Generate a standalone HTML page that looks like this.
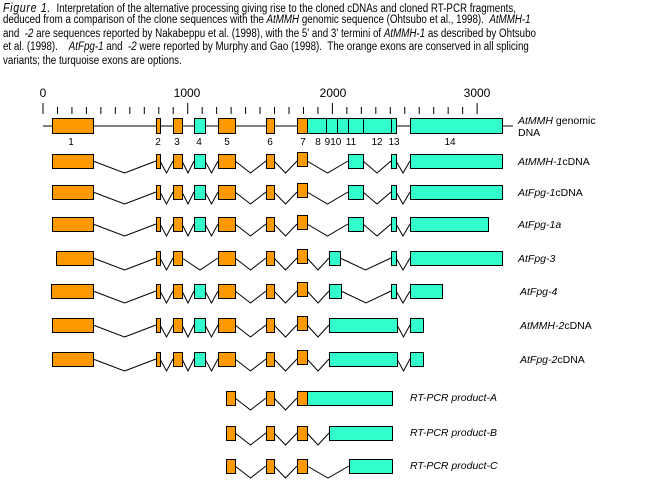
<!DOCTYPE html>
<html><head><meta charset="utf-8"><style>
body{margin:0;background:#fff;}
#w{position:relative;width:654px;height:480px;overflow:hidden;font-family:"Liberation Sans",sans-serif;}
.t{position:absolute;left:3px;font-size:11.5px;white-space:nowrap;color:#000;transform:scaleX(0.85);transform-origin:0 0}
i{font-style:italic}
</style></head><body><div id="w">
<div class="t" style="top:1px"><i style="font-size:12.5px;letter-spacing:0.8px">Figure 1.</i>&nbsp; Interpretation of the alternative processing giving rise to the cloned cDNAs and cloned RT-PCR fragments,</div>
<div class="t" style="top:14px">deduced from a comparison of the clone sequences with the <i>AtMMH</i> genomic sequence (Ohtsubo et al., 1998).&nbsp; <i>AtMMH-1</i></div>
<div class="t" style="top:28px">and &nbsp;<i>-2</i> are sequences reported by Nakabeppu et al. (1998), with the 5' and 3' termini of <i>AtMMH-1</i> as described by Ohtsubo</div>
<div class="t" style="top:41px">et al. (1998).&nbsp;&nbsp;&nbsp; <i>AtFpg-1</i> and &nbsp;<i>-2</i> were reported by Murphy and Gao (1998).&nbsp; The orange exons are conserved in all splicing</div>
<div class="t" style="top:55px">variants; the turquoise exons are options.</div>
<svg id="s" width="654" height="480" style="position:absolute;left:0;top:0" font-family="Liberation Sans, sans-serif" font-size="11">
<g id="g"></g>
<g font-size="12" text-anchor="middle">
<text x="43" y="97">0</text><text x="187" y="97">1000</text><text x="333" y="97">2000</text><text x="477" y="97">3000</text>
</g>
<g text-anchor="middle" font-size="10">
<text x="71" y="145">1</text><text x="158" y="145">2</text><text x="177" y="145">3</text><text x="199" y="145">4</text><text x="227" y="145">5</text><text x="270" y="145">6</text><text x="303" y="145">7</text><text x="318" y="145">8</text><text x="333" y="145">910</text><text x="351" y="145">11</text><text x="377" y="145">12</text><text x="394" y="145">13</text><text x="450" y="145">14</text>
</g>
<g font-size="10.5">
<text x="518" y="124"><tspan font-style="italic">AtMMH</tspan> genomic</text>
<text x="518" y="136">DNA</text>
<text x="518" y="165" font-style="italic">AtMMH-1<tspan font-style="normal">cDNA</tspan></text>
<text x="518" y="196" font-style="italic">AtFpg-1<tspan font-style="normal">cDNA</tspan></text>
<text x="518" y="228" font-style="italic">AtFpg-1a</text>
<text x="518" y="262" font-style="italic">AtFpg-3</text>
<text x="520" y="295" font-style="italic">AtFpg-4</text>
<text x="520" y="329" font-style="italic">AtMMH-2<tspan font-style="normal">cDNA</tspan></text>
<text x="520" y="363" font-style="italic">AtFpg-2<tspan font-style="normal">cDNA</tspan></text>
<text x="410" y="401" font-style="italic">RT-PCR product-A</text>
<text x="410" y="436" font-style="italic">RT-PCR product-B</text>
<text x="410" y="469" font-style="italic">RT-PCR product-C</text>
</g>
</svg>
<script>
var g=document.getElementById('g'),NS='http://www.w3.org/2000/svg';
function el(n,a){var e=document.createElementNS(NS,n);for(var k in a)e.setAttribute(k,a[k]);g.appendChild(e);}
var O='#ff9900',C='#33ffcc';
for(var i=0;i<=30;i++){var x=43+i*14.47;el('line',{x1:x,x2:x,y1:(i%10==0?103:107),y2:114,stroke:'#000','stroke-width':1});}
el('line',{x1:43,x2:513,y1:126,y2:126,stroke:'#000'});
var E={1:[52,93,O],2:[156,160,O],3:[173,182,O],4:[194,205,C],5:[218,235,O],6:[266,274,O],7:[297,307,O],8:[307,326,C],9:[326,337,C],10:[337,348,C],11:[348,363,C],12:[363,391,C],13:[391,396,C],14:[410,502,C]};
for(var k in E){var e=E[k];el('rect',{x:e[0]+.5,y:118.5,width:e[1]-e[0],height:15,fill:e[2],stroke:'#000'});}
function row(top,ex){var cy=top+7;
 for(var i=0;i<ex.length-1;i++){var a=ex[i],b=ex[i+1];if(b[0]-a[1]>1){var m=(a[1]+b[0])/2;el('polyline',{points:a[1]+','+cy+' '+m+','+(cy+12)+' '+b[0]+','+cy,fill:'none',stroke:'#000'});}}
 ex.forEach(function(e){var t=top-(e[3]?2:0);el('rect',{x:e[0]+.5,y:t+.5,width:e[1]-e[0],height:14,fill:e[2],stroke:'#000'});});}
var o1=[52,93,O],o2=[156,160,O],o3=[173,182,O],c4=[194,205,C],o5=[218,235,O],o6=[266,274,O],o7=[297,307,O,1],c11=[348,363,C],c13=[391,396,C];
row(154,[o1,o2,o3,c4,o5,o6,o7,c11,c13,[410,502,C]]);
row(185,[o1,o2,o3,c4,o5,o6,o7,c11,c13,[410,502,C]]);
row(217,[o1,o2,o3,c4,o5,o6,o7,c11,c13,[410,488,C]]);
row(251,[[56,93,O],o2,o3,o5,o6,o7,[329,340,C],c13,[410,502,C]]);
row(284,[[51,93,O],o2,o3,c4,o5,o6,o7,[329,341,C],c13,[410,442,C]]);
row(318,[o1,o2,o3,c4,o5,o6,o7,[329,397,C],[410,423,C]]);
row(352,[o1,o2,o3,c4,o5,o6,o7,[329,397,C],[410,423,C]]);
var r1=[226,235,O],r2=[266,274,O],r3=[297,307,O];
row(391,[r1,r2,r3,[307,392,C]]);
row(426,[r1,r2,r3,[329,392,C]]);
row(459,[r1,r2,r3,[349,392,C]]);
</script>
</div></body></html>
